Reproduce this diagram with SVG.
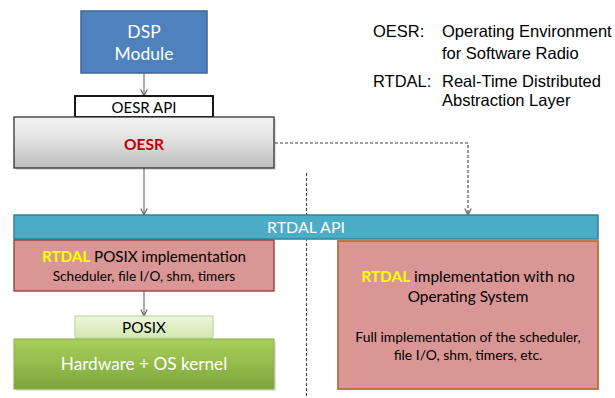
<svg xmlns="http://www.w3.org/2000/svg" width="615" height="398" viewBox="0 0 615 398">
  <defs>
    <style>
      .ui { font-family: Lato, "Open Sans", sans-serif; }
      .legend { font-family: "Liberation Sans", Arial, sans-serif; font-size: 16.5px; fill: #000; }
      .wire { fill: none; stroke: #7f7f7f; stroke-width: 1.3; }
      .dash { fill: none; stroke: #404040; stroke-width: 1.1; stroke-dasharray: 3 2; }
    </style>
    <linearGradient id="gGray" x1="0" y1="0" x2="0" y2="1">
      <stop offset="0" stop-color="#f4f4f4"/>
      <stop offset="0.5" stop-color="#dedede"/>
      <stop offset="1" stop-color="#bdbdbd"/>
    </linearGradient>
    <linearGradient id="gGreen" x1="0" y1="0" x2="0" y2="1">
      <stop offset="0" stop-color="#a9cf5c"/>
      <stop offset="1" stop-color="#7ea63a"/>
    </linearGradient>
    <linearGradient id="gLight" x1="0" y1="0" x2="0" y2="1">
      <stop offset="0" stop-color="#eef5de"/>
      <stop offset="1" stop-color="#d4e8b0"/>
    </linearGradient>
    <marker id="vhead" viewBox="0 0 10 10" refX="9" refY="5" markerWidth="8" markerHeight="8" markerUnits="userSpaceOnUse" orient="auto">
      <path d="M1,1 L9,5 L1,9" fill="none" stroke="#555" stroke-width="1.3"/>
    </marker>
  </defs>

  <!-- connectors -->
  <g id="connectors">
    <line class="wire" x1="144" y1="73" x2="144" y2="96" marker-end="url(#vhead)"/>
    <line class="wire" x1="144" y1="168" x2="144" y2="215" marker-end="url(#vhead)"/>
    <line class="wire" x1="144" y1="291" x2="144" y2="316" marker-end="url(#vhead)"/>
    <polyline class="dash" points="275,143 468,143 468,215" marker-end="url(#vhead)"/>
    <line class="dash" x1="306.5" y1="173" x2="306.5" y2="396" stroke="#000"/>
  </g>

  <!-- DSP module -->
  <g id="dsp">
    <rect x="81" y="11" width="126" height="62" fill="#4f81bd" stroke="#3a679e" stroke-width="1.5"/>
    <text class="ui" x="144" y="38" font-size="17.5" fill="#fff" text-anchor="middle">DSP</text>
    <text class="ui" x="144" y="60" font-size="17.5" fill="#fff" text-anchor="middle">Module</text>
  </g>

  <!-- OESR API -->
  <g id="oesr-api">
    <rect x="75" y="96" width="138" height="21" fill="#fff" stroke="#000" stroke-width="1.8"/>
    <text class="ui" x="144" y="113" font-size="15" fill="#000" text-anchor="middle">OESR API</text>
  </g>

  <!-- OESR -->
  <g id="oesr">
    <rect x="16" y="119" width="260" height="51" fill="#000" opacity="0.12"/>
    <rect x="14" y="117" width="260" height="51" fill="url(#gGray)" stroke="#333" stroke-width="1.3"/>
    <text class="ui" x="144" y="150" font-size="15.5" font-weight="bold" fill="#c00000" text-anchor="middle">OESR</text>
  </g>

  <!-- legend -->
  <g id="legend">
    <text class="legend" x="373" y="37">OESR:</text>
    <text class="legend" x="442" y="37">Operating Environment</text>
    <text class="legend" x="442" y="59">for Software Radio</text>
    <text class="legend" x="373" y="87">RTDAL:</text>
    <text class="legend" x="442" y="87">Real-Time Distributed</text>
    <text class="legend" x="442" y="106">Abstraction Layer</text>
  </g>

  <!-- RTDAL API -->
  <g id="rtdal-api">
    <rect x="14" y="215" width="584" height="24" fill="#4bacc6" stroke="#31849b" stroke-width="1.5"/>
    <text class="ui" x="306" y="233" font-size="16" fill="#fff" text-anchor="middle">RTDAL API</text>
  </g>

  <!-- RTDAL POSIX implementation -->
  <g id="rtdal-posix">
    <rect x="14" y="240" width="260" height="51" fill="#d99694" stroke="#953735" stroke-width="1.3"/>
    <text class="ui" x="144" y="262" font-size="15.2" fill="#000" text-anchor="middle"><tspan fill="#ffff00" font-weight="bold">RTDAL</tspan> POSIX implementation</text>
    <text class="ui" x="144" y="281" font-size="13.6" fill="#000" text-anchor="middle">Scheduler, file I/O, shm, timers</text>
  </g>

  <!-- POSIX -->
  <g id="posix">
    <rect x="75" y="316" width="138" height="22" fill="url(#gLight)" stroke="#b5d38a" stroke-width="1"/>
    <text class="ui" x="144" y="333" font-size="15.3" fill="#000" text-anchor="middle">POSIX</text>
  </g>

  <!-- Hardware + OS kernel -->
  <g id="hardware">
    <rect x="16" y="341" width="260" height="50" fill="#000" opacity="0.12"/>
    <rect x="14" y="339" width="260" height="50" fill="url(#gGreen)" stroke="#86ad3e" stroke-width="1"/>
    <text class="ui" x="144" y="370" font-size="17.2" fill="#fff" text-anchor="middle">Hardware + OS kernel</text>
  </g>

  <!-- RTDAL without OS -->
  <g id="rtdal-noos">
    <rect x="338" y="241" width="260" height="148" fill="#d99694" stroke="#b86f3a" stroke-width="1.8"/>
    <text class="ui" x="468" y="282" font-size="15.4" fill="#000" text-anchor="middle"><tspan fill="#ffff00" font-weight="bold">RTDAL</tspan> implementation with no</text>
    <text class="ui" x="468" y="302" font-size="15.4" fill="#000" text-anchor="middle">Operating System</text>
    <text class="ui" x="468" y="342" font-size="13.9" fill="#000" text-anchor="middle">Full implementation of the scheduler,</text>
    <text class="ui" x="468" y="360" font-size="13.9" fill="#000" text-anchor="middle">file I/O, shm, timers, etc.</text>
  </g>
</svg>
